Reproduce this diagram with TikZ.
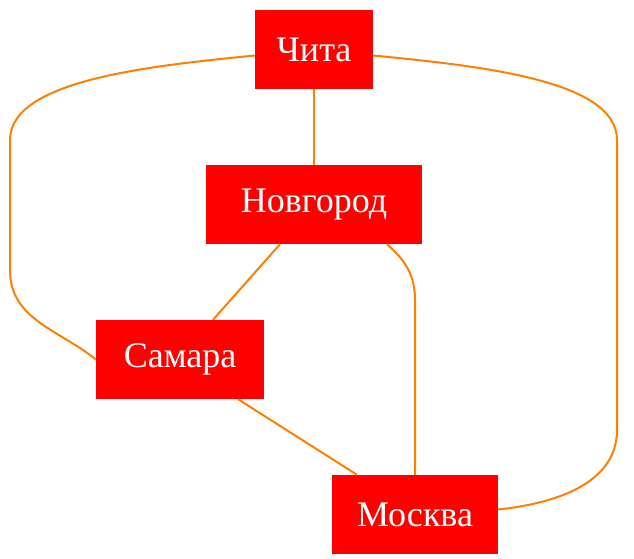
\documentclass[tikz,border=0pt]{standalone}
\usepackage{fontspec}
\setmainfont{Liberation Serif}
\begin{document}
\begin{tikzpicture}[x=1pt,y=-1pt,
  city/.style={fill=red,text=white,font=\fontsize{36}{40}\selectfont,minimum height=79pt,inner sep=0pt,anchor=center},
  link/.style={draw=orange,line width=2pt}]
\useasboundingbox (0,0) rectangle (634,559);
\node[city,minimum width=118pt] (chita) at (314,49.5) {Чита};
\node[city,minimum width=216pt] (nov) at (314,204.5) {Новгород};
\node[city,minimum width=168pt] (sam) at (180,359.5) {Самара};
\node[city,minimum width=166pt] (mos) at (415,514.5) {Москва};
\draw[link] (chita) -- (nov);
\draw[link] ([yshift=-6pt]chita.west) .. controls (150,66) and (10,80) .. (10,140) -- (10,270) .. controls (10,320) and (60,330) .. (sam.west);
\draw[link] ([yshift=-6pt]chita.east) .. controls (480,66) and (617,80) .. (617,140) -- (617,430) .. controls (617,490) and (540,505) .. ([yshift=5pt]mos.east);
\draw[link] ([xshift=-34pt]nov.south) -- ([xshift=33pt]sam.north);
\draw[link] ([xshift=73pt]nov.south) .. controls (405,260) and (415,275) .. (415,300) -- (mos.north);
\draw[link] ([xshift=58pt]sam.south) -- ([xshift=-58pt]mos.north);
\end{tikzpicture}
\end{document}
